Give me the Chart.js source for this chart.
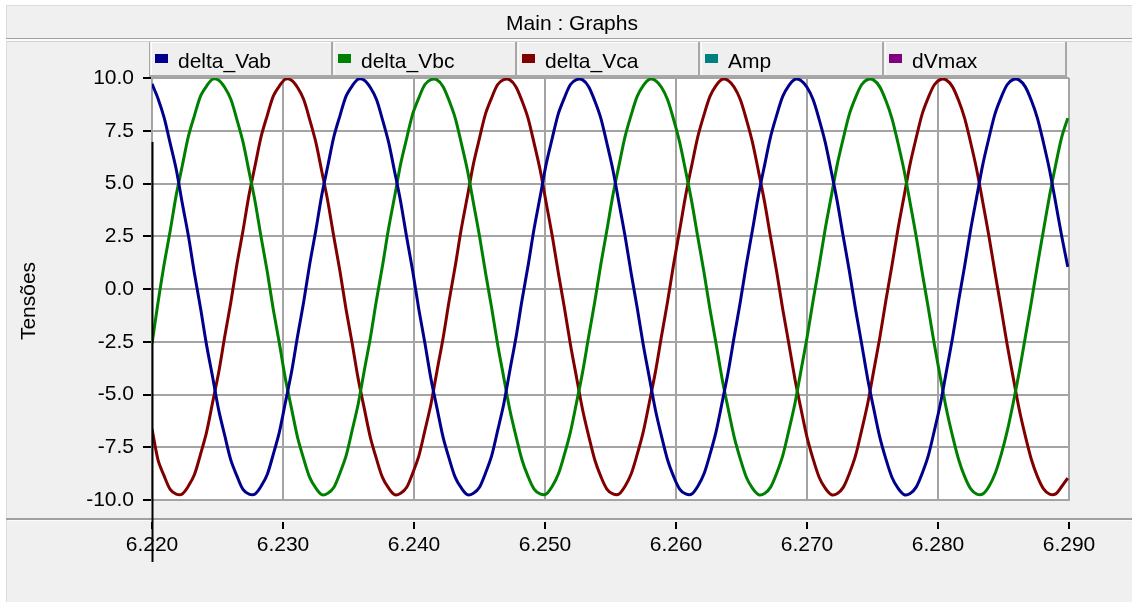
<!DOCTYPE html>
<html lang="pt">
<head>
<meta charset="utf-8">
<title>Main : Graphs</title>
<script src="https://cdn.jsdelivr.net/npm/chart.js@4.4.1/dist/chart.umd.min.js"></script>
<style>
  html, body { margin: 0; padding: 0; background: #ffffff; }
  canvas { display: block; }
</style>
</head>
<body>
<canvas id="graph" width="1132" height="602"></canvas>
<script>
// Panel texts
const panelTitle = 'Main : Graphs';
const axisTitle = 'Tensões';
const seriesNames = ['delta_Vab', 'delta_Vbc', 'delta_Vca', 'Amp', 'dVmax'];
const seriesColors = ['#00008c', '#008000', '#800000', '#008080', '#800080'];

// Time base of the recorded channels (s)
const sampleStart = 6.22;
const sampleStep = 1 / 2160;
const xMin = 6.22, xMax = 6.29, xStep = 0.01;
const yMin = -10, yMax = 10, yStep = 2.5;

// Recorded channels
const deltaVab = [
  9.72, 9.02, 8.12, 6.90, 5.66, 4.05, 2.52, 0.74, -0.90, -2.66, -4.18, -5.74, -6.95, -8.11, -8.86, -9.50, -9.72, -9.71, -9.34, -8.79, -7.83, -6.78, -5.37, -3.95, -2.24, -0.63, 1.17, 2.76, 4.46, 5.85, 7.23, 8.22, 9.14, 9.62, 9.94, 9.89,
  9.55, 8.99, 8.03, 6.97, 5.57, 4.14, 2.44, 0.83, -0.97, -2.57, -4.26, -5.66, -7.03, -8.04, -8.93, -9.43, -9.75, -9.68, -9.40, -8.72, -7.91, -6.70, -5.45, -3.87, -2.32, -0.55, 1.09, 2.85, 4.38, 5.93, 7.15, 8.31, 9.06, 9.69, 9.92, 9.91,
  9.59, 8.92, 8.10, 6.91, 5.64, 4.08, 2.51, 0.76, -0.89, -2.64, -4.19, -5.72, -6.96, -8.09, -8.88, -9.48, -9.71, -9.72, -9.35, -8.77, -7.84, -6.77, -5.38, -3.94, -2.25, -0.62, 1.16, 2.78, 4.45, 5.86, 7.22, 8.24, 9.13, 9.64, 9.94, 9.88,
  9.56, 8.98, 8.04, 6.96, 5.58, 4.13, 2.45, 0.82, -0.96, -2.58, -4.25, -5.67, -7.02, -8.05, -8.92, -9.44, -9.74, -9.69, -9.39, -8.73, -7.90, -6.71, -5.44, -3.88, -2.31, -0.56, 1.10, 2.84, 4.39, 5.92, 7.16, 8.30, 9.07, 9.68, 9.93, 9.90,
  9.58, 8.93, 8.09, 6.92, 5.63, 4.09, 2.50, 1.05
];
const deltaVbc = [
  -2.60, -0.63, 1.17, 2.76, 4.46, 5.85, 7.23, 8.22, 9.14, 9.62, 9.94, 9.89, 9.55, 8.99, 8.03, 6.97, 5.57, 4.14, 2.44, 0.83, -0.97, -2.57, -4.26, -5.66, -7.03, -8.04, -8.93, -9.43, -9.75, -9.68, -9.40, -8.72, -7.91, -6.70, -5.45, -3.87,
  -2.32, -0.55, 1.09, 2.85, 4.38, 5.93, 7.15, 8.31, 9.06, 9.69, 9.92, 9.91, 9.59, 8.92, 8.10, 6.91, 5.64, 4.08, 2.51, 0.76, -0.89, -2.64, -4.19, -5.72, -6.96, -8.09, -8.88, -9.48, -9.71, -9.72, -9.35, -8.77, -7.84, -6.77, -5.38, -3.94,
  -2.25, -0.62, 1.16, 2.78, 4.45, 5.86, 7.22, 8.24, 9.13, 9.64, 9.94, 9.88, 9.56, 8.98, 8.04, 6.96, 5.58, 4.13, 2.45, 0.82, -0.96, -2.58, -4.25, -5.67, -7.02, -8.05, -8.92, -9.44, -9.74, -9.69, -9.39, -8.73, -7.90, -6.71, -5.44, -3.88,
  -2.31, -0.56, 1.10, 2.84, 4.39, 5.92, 7.16, 8.30, 9.07, 9.68, 9.93, 9.90, 9.58, 8.93, 8.09, 6.92, 5.63, 4.09, 2.50, 0.77, -0.90, -2.63, -4.20, -5.71, -6.97, -8.08, -8.89, -9.47, -9.72, -9.71, -9.36, -8.76, -7.86, -6.75, -5.40, -3.92,
  -2.27, -0.60, 1.14, 2.80, 4.43, 5.88, 7.20, 8.10
];
const deltaVca = [
  -6.62, -8.11, -8.86, -9.50, -9.72, -9.71, -9.34, -8.79, -7.83, -6.78, -5.37, -3.95, -2.24, -0.63, 1.17, 2.76, 4.46, 5.85, 7.23, 8.22, 9.14, 9.62, 9.94, 9.89, 9.55, 8.99, 8.03, 6.97, 5.57, 4.14, 2.44, 0.83, -0.97, -2.57, -4.26, -5.66,
  -7.03, -8.04, -8.93, -9.43, -9.75, -9.68, -9.40, -8.72, -7.91, -6.70, -5.45, -3.87, -2.32, -0.55, 1.09, 2.85, 4.38, 5.93, 7.15, 8.31, 9.06, 9.69, 9.92, 9.91, 9.59, 8.92, 8.10, 6.91, 5.64, 4.08, 2.51, 0.76, -0.89, -2.64, -4.19, -5.72,
  -6.96, -8.09, -8.88, -9.48, -9.71, -9.72, -9.35, -8.77, -7.84, -6.77, -5.38, -3.94, -2.25, -0.62, 1.16, 2.78, 4.45, 5.86, 7.22, 8.24, 9.13, 9.64, 9.94, 9.88, 9.56, 8.98, 8.04, 6.96, 5.58, 4.13, 2.45, 0.82, -0.96, -2.58, -4.25, -5.67,
  -7.02, -8.05, -8.92, -9.44, -9.74, -9.69, -9.39, -8.73, -7.90, -6.71, -5.44, -3.88, -2.31, -0.56, 1.10, 2.84, 4.39, 5.92, 7.16, 8.30, 9.07, 9.68, 9.93, 9.90, 9.58, 8.93, 8.09, 6.92, 5.63, 4.09, 2.50, 0.77, -0.90, -2.63, -4.20, -5.71,
  -6.97, -8.08, -8.89, -9.47, -9.72, -9.71, -9.36, -8.96
];
const amp = [];
const dVmax = [];

const sampleTimes = deltaVab.map((_, i) => sampleStart + i * sampleStep);
const toPoints = values => values.map((v, i) => ({ x: sampleTimes[i], y: v }));
const channels = [deltaVab, deltaVbc, deltaVca, amp, dVmax];

const FONT = '"Liberation Sans", Arial, Helvetica, sans-serif';
Chart.defaults.font.family = FONT;
Chart.defaults.font.size = 21;
Chart.defaults.color = '#000000';

// Window chrome: title bar, legend strip, axis strip, cursor
const panelFrame = {
  id: 'panelFrame',
  beforeDraw(chart) {
    const { ctx, chartArea: a, width, height } = chart;
    ctx.save();
    ctx.fillStyle = '#ffffff';
    ctx.fillRect(0, 0, width, height);
    ctx.fillStyle = '#f0f0f0';
    ctx.fillRect(6, 5, width - 6, height - 5);
    ctx.fillStyle = '#dcdcdc';
    ctx.fillRect(6, 5, width - 6, 1);
    ctx.fillRect(6, 5, 1, height - 5);
    // title bar bottom edge
    ctx.fillStyle = '#a0a0a0';
    ctx.fillRect(6, 38, width - 6, 1);
    ctx.fillStyle = '#fbfbfb';
    ctx.fillRect(6, 39, width - 6, 2);
    ctx.fillStyle = '#d2d2d2';
    ctx.fillRect(6, 41, width - 6, 1);
    // strip holding the time axis
    ctx.fillStyle = '#a0a0a0';
    ctx.fillRect(6, 518, width - 6, 2);
    ctx.fillStyle = '#fbfbfb';
    ctx.fillRect(7, 520, width - 7, 1);
    // plot background
    ctx.fillStyle = '#ffffff';
    ctx.fillRect(a.left, a.top, a.right - a.left, a.bottom - a.top);
    ctx.restore();
  },
  afterDraw(chart) {
    const { ctx, scales } = chart;
    ctx.save();
    ctx.font = '21px ' + FONT;
    ctx.fillStyle = '#000000';
    ctx.textAlign = 'center';
    ctx.textBaseline = 'alphabetic';
    ctx.fillText(panelTitle, 572, 30);

    // legend cells
    const cellLeft = 150, cellW = 183.4, cellTop = 42, cellH = 35;
    chart.data.datasets.forEach((ds, i) => {
      const x1 = Math.round(cellLeft + i * cellW);
      const x2 = Math.round(cellLeft + (i + 1) * cellW);
      ctx.fillStyle = '#efefef';
      ctx.fillRect(x1, cellTop, x2 - x1, cellH);
      ctx.fillStyle = '#fdfdfd';
      ctx.fillRect(x1, cellTop, x2 - x1, 1);
      ctx.fillRect(x1 + 1, cellTop, 1, cellH);
      ctx.fillStyle = '#a8a8a8';
      ctx.fillRect(x1 - 1, cellTop, 1, cellH);
      ctx.fillRect(x2 - 2, cellTop, 2, cellH);
      ctx.fillRect(x1 - 1, cellTop + cellH - 2, x2 - x1 + 1, 2);
      ctx.fillStyle = ds.borderColor;
      ctx.fillRect(x1 + 5, 54, 13, 9);
      ctx.fillStyle = '#000000';
      ctx.textAlign = 'left';
      ctx.fillText(ds.label, x1 + 28, 68);
    });

    // vertical axis title
    ctx.save();
    ctx.translate(29, 301);
    ctx.rotate(-Math.PI / 2);
    ctx.textAlign = 'center';
    ctx.textBaseline = 'middle';
    ctx.fillStyle = '#000000';
    ctx.fillText(axisTitle, 0, 0);
    ctx.restore();

    // time axis tick marks
    const xs = scales.x;
    ctx.fillStyle = '#000000';
    xs.ticks.forEach(t => {
      const px = Math.round(xs.getPixelForValue(t.value));
      ctx.fillRect(px - 1, 522, 2, 7);
    });

    // cursor
    const cx = Math.round(xs.getPixelForValue(xMin));
    ctx.fillRect(cx - 0.5, 142, 2, 420);
    ctx.restore();
  }
};

new Chart(document.getElementById('graph'), {
  type: 'line',
  data: {
    datasets: seriesNames.map((name, i) => ({
      label: name,
      data: toPoints(channels[i]),
      borderColor: seriesColors[i],
      backgroundColor: seriesColors[i],
      borderWidth: 3,
      pointRadius: 0,
      tension: 0.3,
      fill: false
    }))
  },
  options: {
    responsive: false,
    animation: false,
    devicePixelRatio: 1,
    layout: { padding: { top: 78, right: 63, bottom: 0, left: 0 } },
    plugins: {
      legend: { display: false },
      title: { display: false },
      tooltip: { enabled: false }
    },
    scales: {
      x: {
        type: 'linear',
        min: xMin,
        max: xMax,
        afterFit(scale) { scale.height = 102; },
        ticks: {
          stepSize: xStep,
          padding: 33,
          maxRotation: 0,
          color: '#000000',
          font: { size: 21 },
          callback: v => Number(v).toFixed(3)
        },
        grid: { color: '#a4a4a4', lineWidth: 2, drawTicks: false },
        border: { display: true, color: '#a4a4a4', width: 2 }
      },
      y: {
        type: 'linear',
        min: yMin,
        max: yMax,
        afterFit(scale) { scale.width = 152; },
        ticks: {
          stepSize: yStep,
          padding: 9,
          color: '#000000',
          font: { size: 21 },
          callback: v => Number(v).toFixed(1)
        },
        grid: { color: '#a4a4a4', lineWidth: 2, drawTicks: true, tickLength: 9, tickWidth: 2, tickColor: '#000000' },
        border: { display: true, color: '#a4a4a4', width: 2 }
      }
    }
  },
  plugins: [panelFrame]
});
</script>
</body>
</html>
